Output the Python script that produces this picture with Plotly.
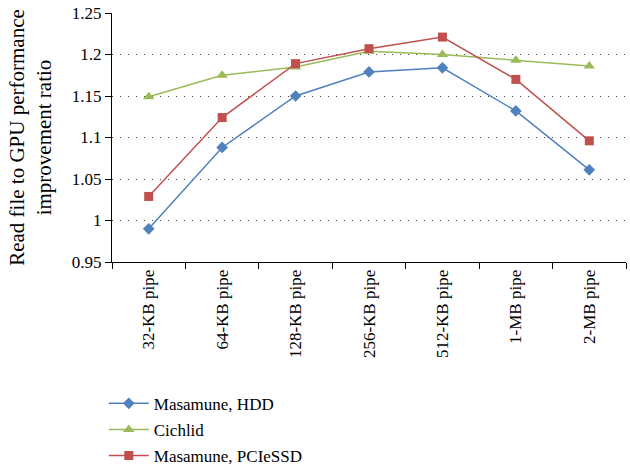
import plotly.graph_objects as go

categories = ["32-KB pipe", "64-KB pipe", "128-KB pipe", "256-KB pipe", "512-KB pipe", "1-MB pipe", "2-MB pipe"]
hdd = [0.990, 1.088, 1.150, 1.179, 1.184, 1.132, 1.061]
cichlid = [1.149, 1.175, 1.185, 1.204, 1.200, 1.193, 1.186]
pcie = [1.029, 1.124, 1.189, 1.207, 1.221, 1.170, 1.096]
y_ticks = [0.95, 1.0, 1.05, 1.1, 1.15, 1.2, 1.25]
y_tick_text = ["0.95", "1", "1.05", "1.1", "1.15", "1.2", "1.25"]

FONT = "Liberation Serif"

fig = go.Figure()
fig.add_trace(go.Scatter(x=categories, y=hdd, name="Masamune, HDD", mode="lines+markers",
                         legendgroup="a",
                         line=dict(color="#4F81BD", width=1.5),
                         marker=dict(symbol="diamond", size=9, color="#4F81BD")))
fig.add_trace(go.Scatter(x=categories, y=cichlid, name="Cichlid", mode="lines+markers",
                         legendgroup="b",
                         line=dict(color="#9BBB59", width=1.5),
                         marker=dict(symbol="triangle-up", size=10, color="#9BBB59")))
fig.add_trace(go.Scatter(x=categories, y=pcie, name="Masamune, PCIeSSD", mode="lines+markers",
                         legendgroup="c",
                         line=dict(color="#C0504D", width=1.5),
                         marker=dict(symbol="square", size=9, color="#C0504D")))

fig.update_layout(
    width=630, height=470,
    margin=dict(l=112, r=4, t=13, b=208, autoexpand=False),
    paper_bgcolor="white", plot_bgcolor="white",
    font=dict(family=FONT, size=17, color="black"),
    legend=dict(x=-0.016, y=-0.497, xanchor="left", yanchor="top", orientation="v",
                font=dict(family=FONT, size=17), tracegroupgap=1, itemwidth=40,
                traceorder="grouped"),
    xaxis=dict(type="category", showline=True, linecolor="black", linewidth=1,
               ticks="outside", tickson="boundaries", ticklen=6, tickcolor="black",
               tickangle=-90, showgrid=False, range=[-0.5, 6.5],
               tickfont=dict(family=FONT, size=17)),
    yaxis=dict(range=[0.95, 1.25], tickvals=y_ticks, ticktext=y_tick_text,
               showline=True, linecolor="black", linewidth=1,
               ticks="outside", ticklen=6, tickcolor="black",
               showgrid=True, gridcolor="#444444", griddash="1px,7px", gridwidth=1,
               zeroline=False,
               title=dict(text="Read file to GPU performance<br>improvement ratio",
                          font=dict(family=FONT, size=21), standoff=14),
               tickfont=dict(family=FONT, size=17)),
)

fig.write_html("out.html")
